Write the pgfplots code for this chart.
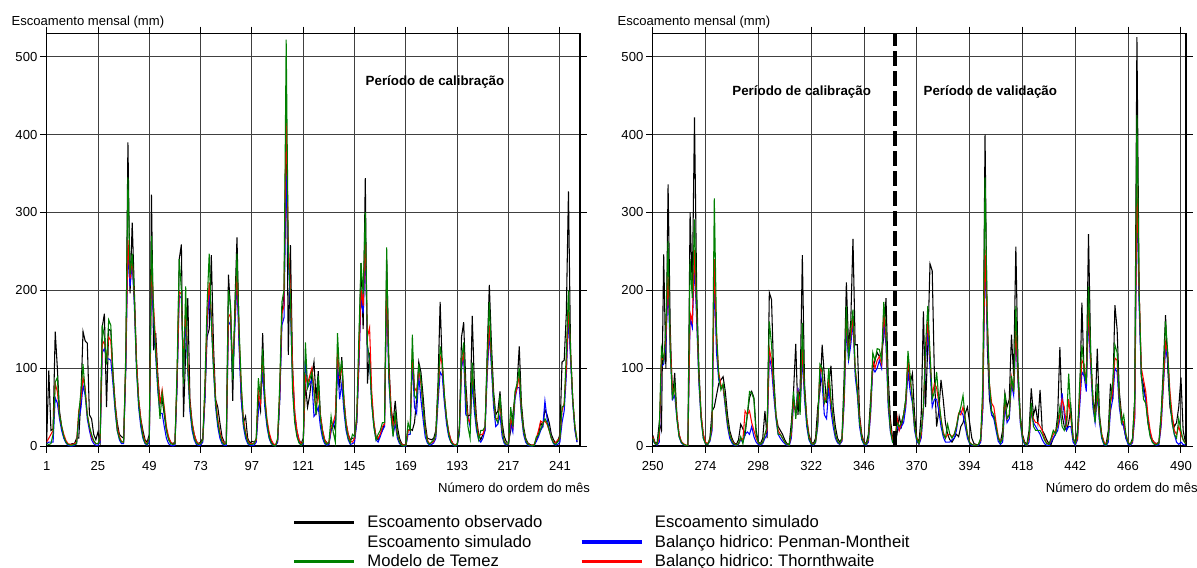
\documentclass[border=0pt]{standalone}
\usepackage{fontspec}
\setmainfont{Liberation Sans}
\usepackage{pgfplots}
\usepackage{pgfplotstable}
\pgfplotsset{compat=1.18}
\frenchspacing

\definecolor{cobs}{RGB}{0,0,0}
\definecolor{ctem}{RGB}{0,128,0}
\definecolor{cpm}{RGB}{0,0,255}
\definecolor{cth}{RGB}{255,0,0}

% months 1-249: observed, Temez, Penman-Montheith, Thornthwaite
\pgfplotstableread[row sep=\\]{
m obs tem pm th\\
1 5 3 3 5\\ 2 97 2 5 10\\ 3 20 3 5 15\\ 4 22 15 5 20\\ 5 147 82 62 80\\ 6 100 88 55 70\\ 7 45 40 35 40\\ 8 25 25 20 25\\ 9 12 12 10 15\\ 10 5 5 4 7\\ 11 2 2 1 3\\ 12 2 1 0 2\\
13 3 1 0 2\\ 14 3 2 1 3\\ 15 10 3 3 5\\ 16 10 40 35 45\\ 17 60 70 48 60\\ 18 147 105 78 88\\ 19 135 70 65 75\\ 20 132 40 35 40\\ 21 40 25 20 25\\ 22 35 15 8 12\\ 23 15 7 3 6\\ 24 8 3 1 3\\
25 18 3 1 3\\ 26 5 10 5 8\\ 27 153 155 120 130\\ 28 170 140 125 135\\ 29 50 105 112 110\\ 30 150 162 112 140\\ 31 148 155 110 135\\ 32 95 90 80 90\\ 33 55 50 45 55\\ 34 30 20 20 25\\ 35 15 10 8 12\\ 36 12 5 3 6\\
37 10 5 3 5\\ 38 100 120 100 110\\ 39 390 345 250 265\\ 40 196 220 205 215\\ 41 287 247 235 240\\ 42 200 190 180 190\\ 43 110 100 100 110\\ 44 60 55 50 60\\ 45 35 30 25 35\\ 46 20 12 10 15\\ 47 8 4 3 6\\ 48 5 2 1 3\\
49 15 10 5 10\\ 50 323 270 215 230\\ 51 123 170 165 180\\ 52 145 120 115 130\\ 53 90 75 70 85\\ 54 55 35 42 55\\ 55 60 68 42 72\\ 56 40 45 25 50\\ 57 20 20 10 25\\ 58 10 8 3 12\\ 59 5 3 1 5\\ 60 3 2 0 2\\
61 5 3 1 3\\ 62 80 100 80 90\\ 63 240 240 193 198\\ 64 259 200 190 195\\ 65 37 80 90 100\\ 66 120 205 165 180\\ 67 190 100 95 110\\ 68 60 50 45 55\\ 69 30 25 20 30\\ 70 15 10 8 15\\ 71 6 4 2 6\\ 72 3 2 1 3\\
73 5 3 1 3\\ 74 10 8 5 8\\ 75 60 80 60 70\\ 76 140 180 150 160\\ 77 150 247 195 210\\ 78 245 160 160 170\\ 79 130 100 100 110\\ 80 60 55 50 60\\ 81 50 30 25 35\\ 82 30 15 10 18\\ 83 12 5 3 8\\ 84 5 2 1 3\\
85 5 3 1 3\\ 86 220 200 155 165\\ 87 175 180 160 170\\ 88 58 85 90 100\\ 89 180 170 150 160\\ 90 268 247 210 225\\ 91 140 150 125 140\\ 92 60 80 60 75\\ 93 30 30 25 35\\ 94 38 15 10 18\\ 95 10 5 3 7\\ 96 4 2 1 3\\
97 6 2 1 3\\ 98 5 3 1 3\\ 99 8 10 5 8\\ 100 60 87 45 70\\ 101 45 60 60 55\\ 102 145 125 95 115\\ 103 60 60 50 65\\ 104 30 30 25 35\\ 105 15 12 10 18\\ 106 6 4 3 8\\ 107 2 1 1 3\\ 108 1 0 0 1\\
109 5 10 5 8\\ 110 60 80 60 70\\ 111 170 185 155 170\\ 112 195 200 165 180\\ 113 425 522 350 430\\ 114 117 245 240 260\\ 115 258 190 180 200\\ 116 100 70 80 100\\ 117 40 30 35 45\\ 118 20 12 15 20\\ 119 8 4 5 8\\ 120 3 1 1 3\\
121 10 5 3 5\\ 122 80 133 115 90\\ 123 50 75 75 80\\ 124 65 85 80 90\\ 125 90 95 85 100\\ 126 108 70 38 75\\ 127 60 40 42 45\\ 128 96 90 50 70\\ 129 40 35 25 40\\ 130 20 15 10 20\\ 131 8 5 3 8\\ 132 4 2 1 3\\
133 3 5 2 4\\ 134 20 38 20 25\\ 135 30 18 25 30\\ 136 20 5 35 40\\ 137 100 145 105 120\\ 138 75 90 60 90\\ 139 114 110 80 100\\ 140 60 55 45 60\\ 141 30 25 20 30\\ 142 15 10 8 15\\ 143 8 4 2 6\\ 144 10 15 3 5\\
145 10 12 5 10\\ 146 30 40 30 35\\ 147 120 140 100 110\\ 148 235 235 190 200\\ 149 150 195 170 180\\ 150 344 300 250 270\\ 151 80 130 128 140\\ 152 120 110 110 152\\ 153 60 55 55 70\\ 154 30 25 25 30\\ 155 12 8 8 12\\ 156 8 15 5 10\\
157 15 20 12 15\\ 158 20 30 20 25\\ 159 30 30 25 28\\ 160 240 255 200 215\\ 161 110 90 85 100\\ 162 50 40 40 50\\ 163 30 12 15 25\\ 164 58 45 28 35\\ 165 25 15 10 15\\ 166 10 5 3 6\\ 167 3 1 1 2\\ 168 1 0 0 1\\
169 2 1 0 1\\ 170 20 30 15 20\\ 171 22 20 15 20\\ 172 20 143 113 120\\ 173 30 65 50 75\\ 174 60 60 42 70\\ 175 108 105 90 98\\ 176 95 85 60 80\\ 177 65 50 35 50\\ 178 30 20 12 22\\ 179 10 6 4 8\\ 180 9 2 1 3\\
181 8 5 2 4\\ 182 10 8 4 6\\ 183 20 15 10 15\\ 184 80 70 55 65\\ 185 185 128 95 115\\ 186 100 110 90 105\\ 187 60 65 55 65\\ 188 35 35 28 35\\ 189 18 15 12 18\\ 190 8 5 5 8\\ 191 3 2 1 3\\ 192 1 0 0 1\\
193 3 2 1 2\\ 194 25 20 15 20\\ 195 140 110 100 105\\ 196 159 133 115 120\\ 197 80 60 40 65\\ 198 38 25 38 35\\ 199 40 10 25 30\\ 200 167 107 80 95\\ 201 80 55 45 60\\ 202 35 25 20 30\\ 203 15 8 8 12\\ 204 8 20 5 15\\
205 15 20 10 15\\ 206 20 25 20 25\\ 207 120 110 90 100\\ 208 207 185 145 155\\ 209 130 110 100 110\\ 210 70 60 50 60\\ 211 40 35 25 35\\ 212 45 30 28 35\\ 213 70 65 40 55\\ 214 30 20 12 20\\ 215 12 5 3 6\\ 216 5 2 1 2\\
217 5 3 2 3\\ 218 20 50 30 35\\ 219 40 25 18 25\\ 220 65 70 60 65\\ 221 80 80 75 75\\ 222 128 100 75 90\\ 223 55 45 40 45\\ 224 25 20 15 20\\ 225 10 8 5 8\\ 226 4 2 1 3\\ 227 2 1 0 1\\ 228 1 0 0 1\\
229 2 1 1 2\\ 230 8 12 6 10\\ 231 15 14 12 20\\ 232 30 22 20 32\\ 233 25 28 25 30\\ 234 47 35 58 32\\ 235 40 30 35 28\\ 236 30 20 22 20\\ 237 15 10 10 10\\ 238 8 4 3 5\\ 239 4 2 1 4\\ 240 6 5 2 8\\
241 15 10 5 10\\ 242 108 50 30 45\\ 243 110 52 45 55\\ 244 170 120 90 100\\ 245 327 200 165 180\\ 246 120 120 110 120\\ 247 60 60 55 60\\ 248 25 25 20 25\\ 249 5 8 5 8\\
}\lefttab

% months 250-492
\pgfplotstableread[row sep=\\]{
m obs tem pm th\\
250 14 10 8 12\\ 251 5 3 3 4\\ 252 3 2 1 2\\ 253 30 20 5 10\\ 254 20 126 102 113\\ 255 246 110 105 110\\ 256 99 150 130 140\\ 257 336 263 205 220\\ 258 150 120 120 130\\ 259 59 60 60 70\\ 260 94 80 65 75\\ 261 40 35 35 40\\
262 15 12 12 15\\ 263 5 5 4 6\\ 264 2 2 2 3\\ 265 1 1 0 1\\ 266 0 0 0 1\\ 267 300 240 165 171\\ 268 200 190 152 160\\ 269 422 291 235 252\\ 270 200 180 160 170\\ 271 100 90 80 90\\ 272 40 35 35 40\\ 273 15 10 10 15\\
274 3 3 3 5\\ 275 2 2 2 3\\ 276 10 8 6 8\\ 277 45 30 20 25\\ 278 50 318 220 240\\ 279 65 150 120 140\\ 280 80 90 85 95\\ 281 85 72 75 78\\ 282 89 80 75 75\\ 283 70 55 50 55\\ 284 40 30 25 30\\ 285 20 15 10 15\\
286 10 6 4 7\\ 287 4 2 1 3\\ 288 2 1 0 1\\ 289 8 3 2 3\\ 290 28 12 8 10\\ 291 22 3 5 8\\ 292 15 20 15 45\\ 293 40 40 18 40\\ 294 62 70 15 45\\ 295 70 68 25 30\\ 296 62 60 12 20\\ 297 20 15 5 10\\
298 5 4 2 4\\ 299 3 2 1 2\\ 300 10 5 3 5\\ 301 45 15 10 15\\ 302 10 25 15 20\\ 303 197 160 115 125\\ 304 188 130 100 110\\ 305 90 80 65 75\\ 306 40 40 35 40\\ 307 25 15 15 20\\ 308 20 15 10 15\\ 309 15 10 6 10\\
310 8 5 3 5\\ 311 3 2 1 2\\ 312 2 1 0 1\\ 313 30 20 10 15\\ 314 70 70 55 60\\ 315 131 35 45 40\\ 316 40 70 75 70\\ 317 75 40 45 55\\ 318 245 158 115 125\\ 319 80 70 60 70\\ 320 35 30 25 35\\ 321 15 10 8 12\\
322 5 3 2 4\\ 323 3 2 1 2\\ 324 10 5 4 5\\ 325 50 30 25 30\\ 326 70 105 95 100\\ 327 130 100 80 95\\ 328 90 55 40 55\\ 329 55 60 35 65\\ 330 80 100 75 85\\ 331 103 60 45 55\\ 332 50 35 25 35\\ 333 25 15 10 15\\
334 10 6 4 6\\ 335 5 3 2 3\\ 336 10 10 6 8\\ 337 90 70 55 60\\ 338 210 180 150 165\\ 339 128 110 110 120\\ 340 160 150 130 140\\ 341 266 175 160 165\\ 342 130 100 90 100\\ 343 130 70 65 75\\ 344 40 30 25 35\\ 345 15 10 8 12\\
346 5 3 2 4\\ 347 3 2 1 2\\ 348 15 10 5 8\\ 349 60 50 40 45\\ 350 100 120 100 110\\ 351 110 110 95 100\\ 352 120 125 100 110\\ 353 115 124 110 115\\ 354 120 110 100 105\\ 355 140 185 160 170\\ 356 190 150 130 140\\ 357 90 60 50 60\\
358 35 20 18 25\\ 359 10 5 5 8\\ 360 3 2 1 2\\ 361 15 30 25 38\\ 362 38 25 20 20\\ 363 25 30 25 30\\ 364 40 40 30 40\\ 365 60 60 50 55\\ 366 107 122 95 110\\ 367 80 90 70 85\\ 368 93 60 55 60\\ 369 40 25 20 25\\
370 10 8 6 10\\ 371 5 3 2 3\\ 372 40 20 10 15\\ 373 173 50 45 50\\ 374 50 130 110 120\\ 375 130 180 150 160\\ 376 234 120 100 115\\ 377 225 60 50 65\\ 378 90 70 60 80\\ 379 25 95 60 75\\ 380 45 60 45 55\\ 381 85 35 25 35\\
382 60 15 12 18\\ 383 30 10 5 10\\ 384 15 28 5 15\\ 385 8 15 5 15\\ 386 5 10 8 12\\ 387 10 15 10 15\\ 388 15 25 20 25\\ 389 12 40 40 42\\ 390 25 50 45 40\\ 391 30 65 40 50\\ 392 42 35 25 35\\ 393 50 15 10 15\\
394 30 4 3 5\\ 395 10 2 1 2\\ 396 3 1 0 1\\ 397 2 1 0 1\\ 398 1 2 1 2\\ 399 5 10 5 8\\ 400 50 80 50 60\\ 401 400 345 240 252\\ 402 130 170 150 160\\ 403 60 80 70 80\\ 404 40 45 40 55\\ 405 38 40 35 50\\
406 25 25 20 30\\ 407 10 10 6 12\\ 408 5 4 2 5\\ 409 20 10 5 10\\ 410 68 68 50 60\\ 411 50 35 30 35\\ 412 60 40 35 40\\ 413 143 90 80 88\\ 414 90 70 65 70\\ 415 256 180 140 150\\ 416 100 90 80 85\\ 417 40 35 30 35\\
418 15 10 8 12\\ 419 5 3 2 4\\ 420 2 1 0 1\\ 421 20 15 5 10\\ 422 74 55 45 45\\ 423 40 25 30 35\\ 424 50 20 25 30\\ 425 30 20 20 30\\ 426 72 20 15 25\\ 427 20 15 8 20\\ 428 15 8 3 10\\ 429 8 3 1 4\\
430 3 2 0 2\\ 431 2 10 5 8\\ 432 10 20 10 15\\ 433 15 15 15 20\\ 434 40 30 20 25\\ 435 127 50 35 40\\ 436 40 25 68 60\\ 437 25 20 40 50\\ 438 20 30 20 25\\ 439 30 93 25 60\\ 440 50 40 25 35\\ 441 10 10 5 10\\
442 3 3 1 3\\ 443 20 15 8 10\\ 444 60 80 50 60\\ 445 184 130 95 110\\ 446 90 100 90 105\\ 447 85 80 70 80\\ 448 272 205 165 178\\ 449 120 120 100 110\\ 450 60 60 50 60\\ 451 45 30 30 35\\ 452 125 80 65 70\\ 453 40 35 30 35\\
454 15 12 10 15\\ 455 5 3 2 5\\ 456 2 1 0 2\\ 457 20 10 5 10\\ 458 80 60 45 55\\ 459 60 80 60 70\\ 460 181 130 100 113\\ 461 150 120 95 110\\ 462 70 60 50 60\\ 463 40 30 30 35\\ 464 25 40 25 30\\ 465 10 15 10 15\\
466 4 4 2 5\\ 467 2 2 1 2\\ 468 10 8 4 6\\ 469 60 60 35 40\\ 470 525 425 320 335\\ 471 200 200 180 200\\ 472 90 90 90 100\\ 473 78 60 70 85\\ 474 60 55 60 70\\ 475 30 30 35 40\\ 476 15 12 15 20\\ 477 8 5 5 8\\
478 4 2 2 4\\ 479 3 2 1 3\\ 480 5 4 2 4\\ 481 40 40 25 30\\ 482 100 90 75 80\\ 483 168 160 125 133\\ 484 100 120 110 120\\ 485 50 60 60 70\\ 486 35 30 30 40\\ 487 25 15 15 20\\ 488 30 10 5 15\\ 489 50 35 2 25\\
490 88 20 5 15\\ 491 20 8 2 8\\ 492 5 3 1 4\\
}\righttab

\pgfplotsset{
  panel/.style={
    scale only axis, width=400pt, height=309.5pt,
    ymin=0, ymax=530, ytick={0,100,...,500},
    grid=major, grid style={black!75, line width=0.7pt},
    axis line style={line width=0.8pt},
    tick align=outside, major tick length=5pt,
    tick style={black, line width=0.7pt},
    ticklabel style={font=\fontsize{9.8}{11}\selectfont},
    yticklabel style={xshift=1.5pt},
    xticklabel style={yshift=-3pt},
    /pgf/number format/assume math mode=true,
    every axis plot/.append style={line width=0.8pt},
  },
}
\tikzset{lbl/.style={font=\fontsize{9.8}{11}\selectfont}}

\begin{document}
\begin{tikzpicture}
\useasboundingbox (0,0) rectangle (897.75pt,426pt);

\begin{axis}[panel, name=L, at={(35pt,91.5pt)}, anchor=south west,
  xmin=1, xmax=250.4, xtick={1,25,...,241},
  legend style={at={(0.4526,-0.155)}, anchor=north west, draw=none, fill=none,
    legend columns=2, font=\fontsize{12.5}{14}\selectfont,
    /tikz/every even column/.append style={column sep=26pt}},
  legend cell align=left,
  legend image code/.code={\draw[#1, line width=2.6pt] (0pt,0pt) -- (45pt,0pt); \path[draw=none] (0pt,0pt) -- (53pt,0pt);},
]
\addplot[cobs, forget plot] table[x=m, y=obs] {\lefttab};
\addplot[cpm, forget plot] table[x=m, y=pm] {\lefttab};
\addplot[cth, forget plot] table[x=m, y=th] {\lefttab};
\addplot[ctem, forget plot] table[x=m, y=tem] {\lefttab};
\node[font=\bfseries\fontsize{10}{12}\selectfont] at (axis cs:182.6,467) {Período de calibração};
\addlegendimage{cobs}
\addlegendentry{Escoamento observado}
\addlegendimage{empty legend}
\addlegendentry{Escoamento simulado}
\addlegendimage{empty legend}
\addlegendentry{Escoamento simulado}
\addlegendimage{cpm}
\addlegendentry{Balanço hidrico: Penman-Montheit}
\addlegendimage{ctem}
\addlegendentry{Modelo de Temez}
\addlegendimage{cth}
\addlegendentry{Balanço hidrico: Thornthwaite}
\end{axis}

\begin{axis}[panel, name=R, at={(489.5pt,91.5pt)}, anchor=south west,
  xmin=250, xmax=492.3, xtick={250,274,...,490}]
\addplot[cobs] table[x=m, y=obs] {\righttab};
\addplot[cpm] table[x=m, y=pm] {\righttab};
\addplot[cth] table[x=m, y=th] {\righttab};
\addplot[ctem] table[x=m, y=tem] {\righttab};
\draw[black, line width=2.6pt, dash pattern=on 11pt off 4pt] (axis cs:360,0) -- (axis cs:360,530);
\node[font=\bfseries\fontsize{10}{12}\selectfont] at (axis cs:317.7,455) {Período de calibração};
\node[font=\bfseries\fontsize{10}{12}\selectfont] at (axis cs:403.4,455) {Período de validação};
\end{axis}

\node[lbl, anchor=west] at ([xshift=-29.8pt, yshift=8.5pt] L.north west) {Escoamento mensal (mm)};
\node[lbl, anchor=west] at ([xshift=-29.8pt, yshift=8.5pt] R.north west) {Escoamento mensal (mm)};
\node[lbl, anchor=east] at ([xshift=11pt, yshift=-31.5pt] L.south east) {Número do ordem do mês};
\node[lbl, anchor=east] at ([xshift=12.3pt, yshift=-31.5pt] R.south east) {Número do ordem do mês};
\end{tikzpicture}
\end{document}
